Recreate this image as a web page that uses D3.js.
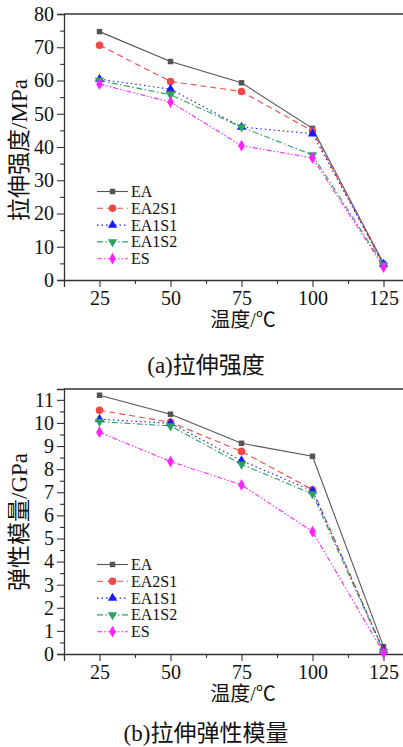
<!DOCTYPE html>
<html><head><meta charset="utf-8">
<script src="https://cdn.jsdelivr.net/npm/d3@7"></script>
<style>
body{margin:0;background:#fff;}
svg{display:block;}
.num{font-family:"Liberation Serif","Times New Roman",Times,serif;}
.cjk{font-family:"Liberation Serif","Noto Sans CJK SC",serif;}
</style></head>
<body>
<svg id="chart" width="403" height="747"></svg>
<script>
const temps = [25, 50, 75, 100, 125];
const seriesNames = ["EA", "EA2S1", "EA1S1", "EA1S2", "ES"];
// (a) tensile strength, MPa
const strengthEA    = [74.7, 65.7, 59.3, 45.6, 5.0];
const strengthEA2S1 = [70.6, 59.7, 56.7, 44.8, 4.6];
const strengthEA1S1 = [60.4, 57.4, 46.0, 44.0, 4.8];
const strengthEA1S2 = [60.0, 55.7, 46.0, 37.6, 4.5];
const strengthES    = [58.9, 53.5, 40.4, 36.7, 3.9];
// (b) tensile elastic modulus, GPa
const modulusEA    = [11.2, 10.38, 9.12, 8.56, 0.32];
const modulusEA2S1 = [10.55, 10.03, 8.77, 7.11, 0.15];
const modulusEA1S1 = [10.16, 9.99, 8.37, 7.06, 0.15];
const modulusEA1S2 = [10.06, 9.87, 8.21, 6.93, 0.10];
const modulusES    = [9.6, 8.33, 7.32, 5.3, 0.05];
const xTicks = [25, 50, 75, 100, 125];
const yTicksA = [0, 10, 20, 30, 40, 50, 60, 70, 80];
const yTicksB = [0, 1, 2, 3, 4, 5, 6, 7, 8, 9, 10, 11];

const colors = ["#555555", "#f04848", "#1a1aff", "#2ea060", "#ff22ff"];
const dashes = [null, "6,4", "1.5,3", "6,2.5,1.5,2.5", "5,2,1.5,2,1.5,2"];
const symbols = [d3.symbolSquare, d3.symbolCircle, d3.symbolTriangle, "tridown", d3.symbolDiamond];
const symSizes = [30, 45, 38, 38, 40];

const svg = d3.select("#chart");

function panel(opt) {
  const x = d3.scaleLinear().domain([12.5, 137.5]).range([64, 419]);
  const y = d3.scaleLinear().domain(opt.ydom).range([opt.bottom, opt.top]);
  const g = svg.append("g");
  g.append("line").attr("x1", 64).attr("x2", 420).attr("y1", opt.top).attr("y2", opt.top)
    .attr("stroke", "#333").attr("stroke-width", 1.3);
  const xa = g.append("g").attr("transform", `translate(0,${opt.bottom})`)
    .call(d3.axisBottom(x).tickValues(xTicks).tickSize(7).tickPadding(4).tickFormat(d3.format("d")));
  const xm = g.append("g").attr("transform", `translate(0,${opt.bottom})`)
    .call(d3.axisBottom(x).tickValues([37.5, 62.5, 87.5, 112.5]).tickSize(4).tickFormat(""));
  const ya = g.append("g").attr("transform", `translate(64,0)`)
    .call(d3.axisLeft(y).tickValues(opt.yticks).tickSize(7).tickPadding(3).tickFormat(d3.format("d")));
  const ym = g.append("g").attr("transform", `translate(64,0)`)
    .call(d3.axisLeft(y).tickValues(opt.yminor).tickSize(4).tickFormat(""));
  [xa, xm, ya, ym].forEach(a => {
    a.selectAll("path").attr("stroke", "#333").attr("stroke-width", 1.3);
    a.selectAll("line").attr("stroke", "#333").attr("stroke-width", 1.1);
    a.selectAll("text").attr("class", "num").attr("font-family", null).attr("font-size", 20).attr("fill", "#111");
  });
  xm.select("path").remove(); ym.select("path").remove();

  opt.data.forEach((vals, i) => {
    const line = d3.line().x((d, j) => x(temps[j])).y(d => y(d));
    g.append("path").datum(vals).attr("d", line).attr("fill", "none")
      .attr("stroke", colors[i]).attr("stroke-width", 1.1)
      .attr("stroke-dasharray", dashes[i]);
  });
  opt.data.forEach((vals, i) => {
    vals.forEach((v, j) => drawSym(g, x(temps[j]), y(v), i));
  });
  seriesNames.forEach((n, i) => {
    const ly = opt.legTop + i * 16.8;
    g.append("line").attr("x1", 97).attr("x2", 128).attr("y1", ly).attr("y2", ly)
      .attr("stroke", colors[i]).attr("stroke-width", 1.1).attr("stroke-dasharray", dashes[i]);
    drawSym(g, 112.5, ly, i);
    g.append("text").attr("class", "num").attr("x", 131).attr("y", ly + 5.5).text(n)
      .attr("font-size", 16).attr("fill", "#111");
  });
  g.append("text").attr("class", "cjk").attr("transform", `translate(27,${opt.ytitleY}) rotate(-90)`)
    .attr("text-anchor", "middle").attr("font-size", 23).attr("fill", "#111")
    .text(opt.ytitle);
  g.append("text").attr("class", "cjk").attr("x", 243).attr("y", opt.bottom + 47).attr("text-anchor", "middle")
    .attr("font-size", 20).attr("fill", "#111").text("温度/℃");
  g.append("text").attr("class", "cjk").attr("x", 206).attr("y", opt.captionY).attr("text-anchor", "middle")
    .attr("font-size", 23).attr("fill", "#111").text(opt.caption);
}

function drawSym(g, cx, cy, i) {
  const p = g.append("path").attr("fill", colors[i]);
  if (symbols[i] === "tridown") {
    p.attr("d", d3.symbol(d3.symbolTriangle, symSizes[i])())
      .attr("transform", `translate(${cx},${cy}) rotate(180)`);
  } else {
    p.attr("d", d3.symbol(symbols[i], symSizes[i])())
      .attr("transform", `translate(${cx},${cy})`);
  }
}

panel({
  top: 14, bottom: 280, ydom: [0, 80], yticks: yTicksA,
  yminor: [5, 15, 25, 35, 45, 55, 65, 75],
  data: [strengthEA, strengthEA2S1, strengthEA1S1, strengthEA1S2, strengthES],
  legTop: 191.5, ytitle: "拉伸强度/MPa", ytitleY: 150, captionY: 373, caption: "(a)拉伸强度"
});
panel({
  top: 389, bottom: 654, ydom: [0, 11.47], yticks: yTicksB,
  yminor: [0.5, 1.5, 2.5, 3.5, 4.5, 5.5, 6.5, 7.5, 8.5, 9.5, 10.5],
  data: [modulusEA, modulusEA2S1, modulusEA1S1, modulusEA1S2, modulusES],
  legTop: 564.5, ytitle: "弹性模量/GPa", ytitleY: 522, captionY: 741, caption: "(b)拉伸弹性模量"
});
</script>
</body></html>
